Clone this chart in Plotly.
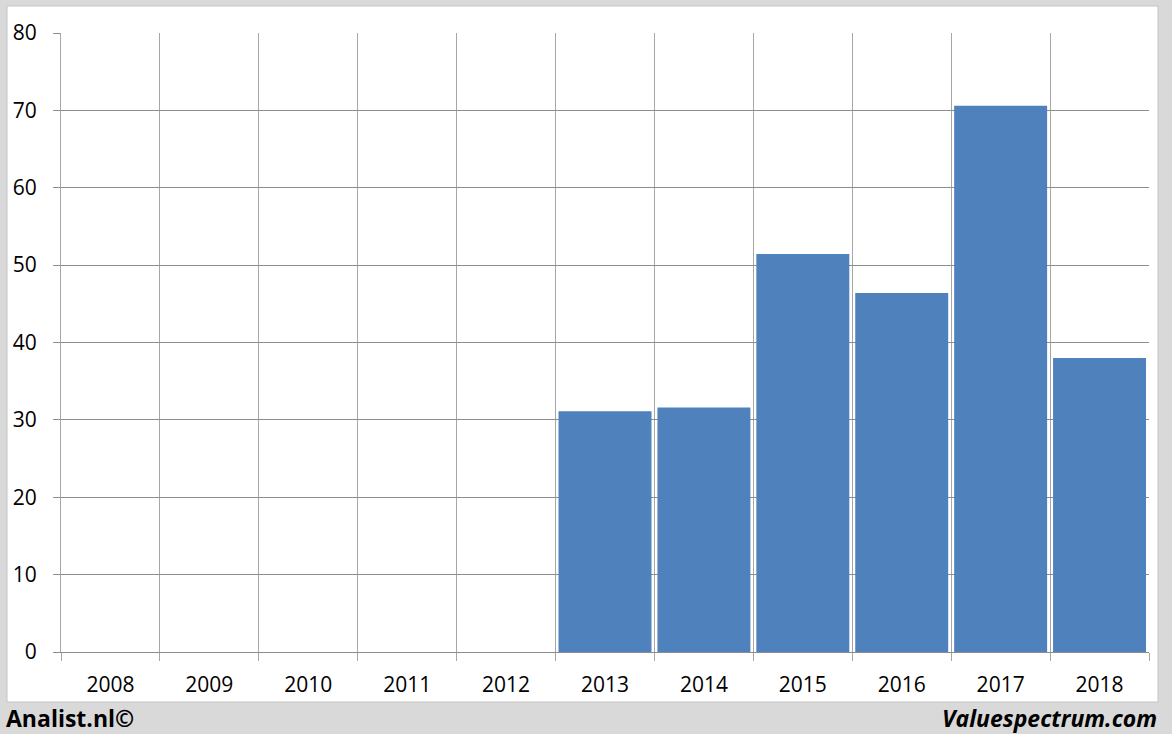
import plotly.graph_objects as go

years = ["2008", "2009", "2010", "2011", "2012", "2013", "2014", "2015", "2016", "2017", "2018"]
values = [None, None, None, None, None, 31.1, 31.6, 51.45, 46.4, 70.6, 38.0]
y_ticks = [0, 10, 20, 30, 40, 50, 60, 70, 80]

W, H = 1172, 734
L, R, T, B = 61, 1149, 33, 652
pw, ph = R - L, B - T

def px(x):
    return (x - L) / pw

def py(y):
    return (B - y) / ph

FONT = "Open Sans, Liberation Sans, sans-serif"

fig = go.Figure()
fig.add_trace(go.Bar(
    x=years, y=values,
    marker=dict(color="#4f81bd", line=dict(width=0)),
    hoverinfo="x+y",
))

fig.update_layout(
    width=W, height=H,
    margin=dict(l=L, r=W - R, t=T, b=H - B, pad=0),
    paper_bgcolor="#d9d9d9",
    plot_bgcolor="white",
    bargap=0.06,
    showlegend=False,
    font=dict(family=FONT, size=21, color="#000000"),
    shapes=[dict(
        type="rect", xref="paper", yref="paper", layer="below",
        x0=px(7), x1=px(1158), y0=py(702), y1=py(6),
        fillcolor="white", line=dict(color="#c4c4c4", width=1),
    )],
    annotations=[
        dict(text="<b>Analist.nl©</b>", xref="paper", yref="paper",
             x=px(4), y=py(718), xanchor="left", yanchor="middle",
             showarrow=False, font=dict(size=23, family=FONT)),
        dict(text="<b><i>Valuespectrum.com</i></b>", xref="paper", yref="paper",
             x=px(1159), y=py(718), xanchor="right", yanchor="middle",
             showarrow=False, font=dict(size=23, family=FONT)),
    ],
)

fig.update_xaxes(
    type="category",
    tickson="boundaries",
    showgrid=True, gridcolor="#a6a6a6", gridwidth=1,
    ticks="outside", ticklen=8, tickcolor="#a6a6a6",
    showline=True, linecolor="#8c8c8c", linewidth=1,
    range=[-0.5, 10.5],
    ticklabelstandoff=14,
    fixedrange=True,
)
fig.update_yaxes(
    range=[0, 80],
    tickvals=y_ticks,
    showgrid=True, gridcolor="#8c8c8c", gridwidth=1,
    ticks="outside", ticklen=7, tickcolor="#8c8c8c",
    showline=True, linecolor="#a6a6a6", linewidth=1,
    zeroline=False,
    ticklabelstandoff=12,
    fixedrange=True,
)

fig.write_html(
    "out.html",
    config={"displayModeBar": False},
    post_script="document.body.style.margin='0';document.body.style.overflow='hidden';",
)
